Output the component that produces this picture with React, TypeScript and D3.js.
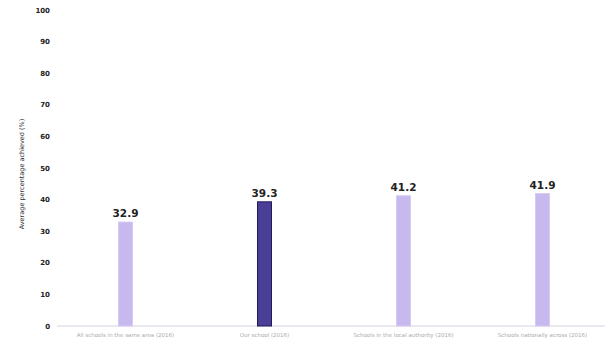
import React from "react";
import * as d3 from "d3";

const categories = [
  "All schools in the same area (2016)",
  "Our school (2016)",
  "Schools in the local authority (2016)",
  "Schools nationally across (2016)",
];
const values = [32.9, 39.3, 41.2, 41.9];
const highlight = [false, true, false, false];
const yTicks = [0, 10, 20, 30, 40, 50, 60, 70, 80, 90, 100];

export default function App() {
  const W = 608, H = 346;
  const x = d3.scaleBand<string>().domain(categories).range([56, 612]);
  const y = d3.scaleLinear().domain([0, 100]).range([326, 10]);
  const bw = 14;
  return (
    <svg width={W} height={H} style={{ position: "absolute", left: 0, top: 0 }}>
      <rect width={W} height={H} fill="#fff" />
      <line x1={57} x2={605} y1={y(0)} y2={y(0)} stroke="#e2e2ea" strokeWidth={1.5} />
      {yTicks.map((t) => (
        <text key={t} x={50} y={y(t) + 2.5} textAnchor="end" fontSize={7} fontWeight="bold"
          fontFamily="DejaVu Sans" fill="#222">{t}</text>
      ))}
      <text transform={`translate(24,${y(50) + 6}) rotate(-90)`} textAnchor="middle" fontSize={6.5}
        fontFamily="DejaVu Sans" fill="#333">Average percentage achieved (%)</text>
      {categories.map((c, i) => {
        const cx = (x(c) as number) + x.bandwidth() / 2;
        return (
          <g key={c}>
            <rect x={cx - bw / 2} y={y(values[i])} width={bw} height={y(0) - y(values[i])}
              fill={highlight[i] ? "#4a3f96" : "#c7b9ee"}
              stroke={highlight[i] ? "#231a5e" : "#d6cbf3"} strokeWidth={1} />
            <text x={cx} y={y(values[i]) - 5} textAnchor="middle" fontSize={10.5} fontWeight="bold"
              fontFamily="DejaVu Sans" fill="#222">{values[i].toFixed(1)}</text>
            <text x={cx} y={337} textAnchor="middle" fontSize={5.5}
              fontFamily="DejaVu Sans" fill="#aaa">{c}</text>
          </g>
        );
      })}
    </svg>
  );
}
